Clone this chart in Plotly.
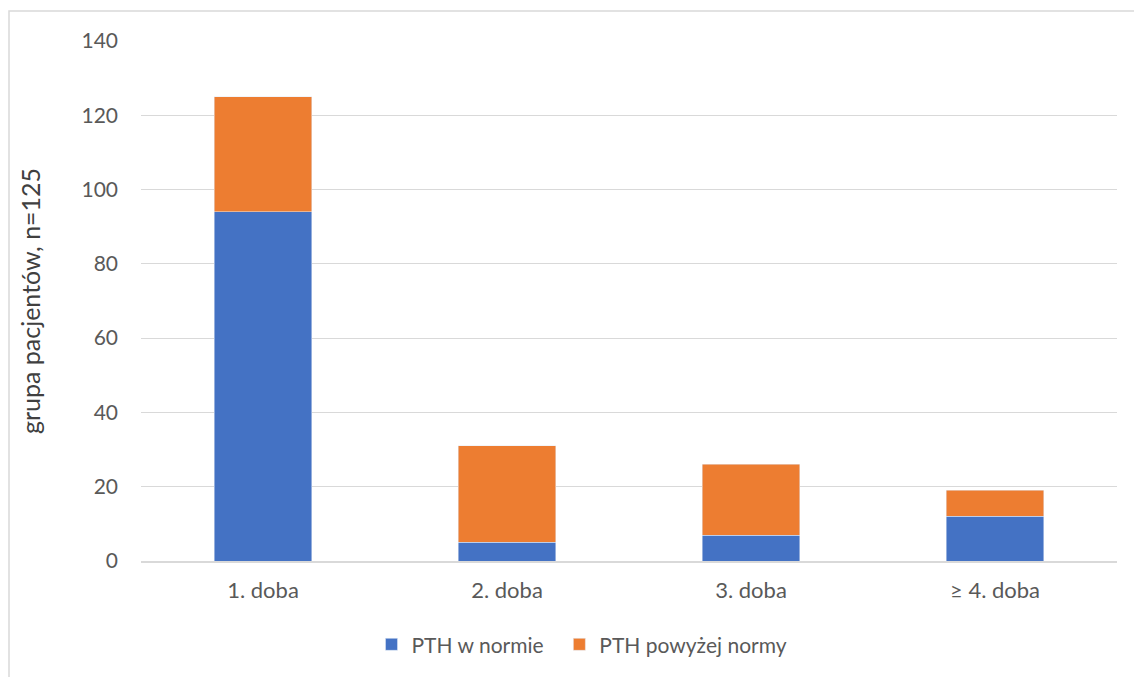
import plotly.graph_objects as go

categories = ["1. doba", "2. doba", "3. doba", "≥ 4. doba"]
w_normie = [94, 5, 7, 12]
powyzej = [31, 26, 19, 7]

FONT = "Lato, Open Sans, sans-serif"
GREY = "#595959"

fig = go.Figure()
fig.add_trace(go.Bar(x=categories, y=w_normie, name="PTH w normie  ", marker_color="#4472C4"))
fig.add_trace(go.Bar(x=categories, y=powyzej, name="PTH powyżej normy", marker_color="#ED7D31"))

L, R, T, B = 141, 17, 41, 114
W, H = 1134, 677
pw, ph = W - L - R, H - T - B

fig.update_layout(
    barmode="stack",
    bargap=0.6,
    width=W, height=H,
    margin=dict(l=L, r=R, t=T, b=B, pad=0),
    paper_bgcolor="white", plot_bgcolor="white",
    font=dict(family=FONT, size=21, color=GREY),
    legend=dict(orientation="h", x=(582 - L) / pw, xanchor="center", y=(563 - 647) / ph, yanchor="middle",
                font=dict(size=21, color=GREY), traceorder="normal", itemwidth=30),
    xaxis=dict(showgrid=False, showline=True, linecolor="#d9d9d9", linewidth=1.5,
               ticks="", tickfont=dict(size=22, color=GREY), ticklabelstandoff=9),
    yaxis=dict(range=[0, 140], dtick=20, showgrid=True, gridcolor="#d9d9d9", gridwidth=1,
               zeroline=False, showline=False, ticks="", ticklabelstandoff=22,
               tickfont=dict(size=21, color=GREY),
               title=dict(text="grupa pacjentów, n=125", font=dict(size=25, color="#404040"), standoff=33)),
    shapes=[dict(type="rect", xref="paper", yref="paper",
                 x0=(9 - L) / pw, x1=1.05, y0=-0.3, y1=1 + (T - 11) / ph,
                 line=dict(color="#d9d9d9", width=1.5), fillcolor="rgba(0,0,0,0)", layer="below")],
)

fig.write_html("out.html")
